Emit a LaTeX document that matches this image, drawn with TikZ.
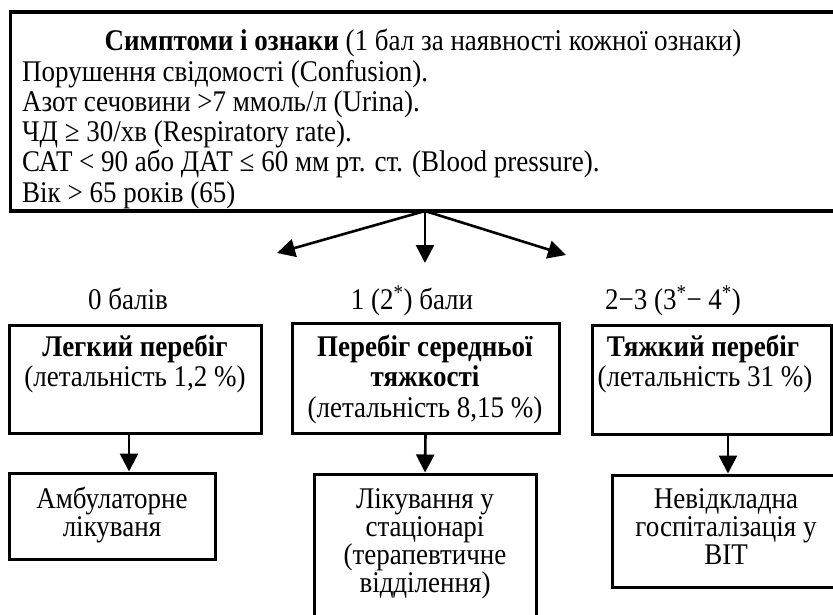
\documentclass[tikz,border=0pt]{standalone}
\usepackage{fontspec}
\setmainfont{Liberation Serif}[FakeStretch=0.9]
\usetikzlibrary{arrows.meta}
\begin{document}
\begin{tikzpicture}[x=1pt,y=-1pt,
  box/.style={draw, line width=3pt, inner sep=0pt},
  txt/.style={inner sep=0pt, anchor=base, font=\fontsize{30}{31}\selectfont},
  ltxt/.style={txt, anchor=base west},
  arr/.style={line width=2.6pt, -{Triangle[length=18pt,width=18pt]}}
]
\clip (0,0) rectangle (833,615);
% boxes
\node[box, line width=3.5pt, minimum width=834.5pt, minimum height=199pt] (top) at (427.75,111.5) {};
\node[box, minimum width=251.5pt, minimum height=108pt] (box1) at (135.25,379) {};
\node[box, minimum width=267pt, minimum height=110pt] (box2) at (425.5,378) {};
\node[box, minimum width=239pt, minimum height=109pt] (box3) at (711.5,379.5) {};
\node[box, minimum width=205.5pt, minimum height=86pt] (B1) at (112.25,516) {};
\node[box, minimum width=222pt, minimum height=156pt] (B2) at (425,552) {};
\node[box, minimum width=228pt, minimum height=112pt] (B3) at (726,531) {};
% top texts
\node[txt] (title) at (423,51) {\textbf{Симптоми і ознаки} (1 бал за наявності кожної ознаки)};
\node[ltxt] (l1) at (22,81.2) {Порушення свідомості (Confusion).};
\node[ltxt] (l2) at (22,111.4) {Азот сечовини >7 ммоль/л (Urina).};
\node[ltxt] (l3) at (22,141.6) {ЧД ≥ 30/хв (Respiratory rate).};
\node[ltxt] (l4) at (22,171.8) {САТ < 90 або ДАТ ≤ 60 мм рт. ст. (Blood pressure).};
\node[ltxt] (l5) at (22,202) {Вік > 65 років (65)};
% score labels
\node[txt] (s0) at (128,309) {0 балів};
\node[txt] (s1) at (412,309) {1 (2\textsuperscript{*}) бали};
\node[txt] (s2) at (673,309) {2−3 (3\textsuperscript{*}− 4\textsuperscript{*})};
% middle texts
\node[txt] (b1a) at (135,356) {\textbf{Легкий перебіг}};
\node[txt] (b1b) at (135,386) {(летальність 1,2 \%)};
\node[txt] (b2a) at (425,356) {\textbf{Перебіг середньої}};
\node[txt] (b2b) at (425,386) {\textbf{тяжкості}};
\node[txt] (b2c) at (425,417) {(летальність 8,15 \%)};
\node[txt] (b3a) at (703,356) {\textbf{Тяжкий перебіг}};
\node[txt] (b3b) at (705,386) {(летальність 31 \%)};
% bottom texts
\node[txt] (c1a) at (112,508) {Амбулаторне};
\node[txt] (c1b) at (112,536) {лікуваня};
\node[txt] (c2a) at (425,508) {Лікування у};
\node[txt] (c2b) at (425,536) {стаціонарі};
\node[txt] (c2c) at (425,564) {(терапевтичне};
\node[txt] (c2d) at (425,592) {відділення)};
\node[txt] (c3a) at (726,508) {Невідкладна};
\node[txt] (c3b) at (726,536) {госпіталізація у};
\node[txt] (c3c) at (726,564) {ВІТ};
% connectors
\coordinate (fork) at (425,211);
\coordinate (tipL) at (277,253);
\coordinate (tipM) at (425,263);
\coordinate (tipR) at (566,255);
\draw[arr] (fork) -- (tipL);
\draw[arr] (fork) -- (tipM);
\draw[arr] (fork) -- (tipR);
\coordinate (d1) at (129,0);
\coordinate (d3) at (728,0);
\draw[arr] (box1.south -| d1) -- (B1.north -| d1);
\draw[arr] (box2.south) -- (B2.north);
\draw[arr] (box3.south -| d3) -- (B3.north -| d3);
\end{tikzpicture}
\end{document}
